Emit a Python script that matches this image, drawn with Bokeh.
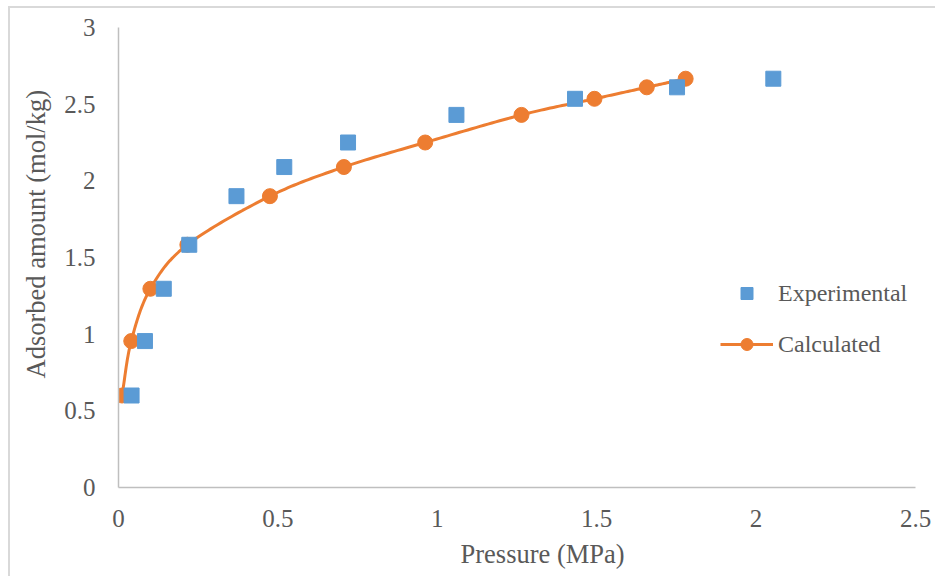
import numpy as np
from bokeh.plotting import figure
from bokeh.models import (Legend, LegendItem, FixedTicker, CustomJSTickFormatter, Title)
from bokeh.embed import file_html
from bokeh.resources import INLINE

# ---- data ----
exp_pressure = [0.041, 0.083, 0.142, 0.222, 0.37, 0.52, 0.72, 1.06, 1.432, 1.752, 2.054]
exp_amount = [0.60, 0.955, 1.296, 1.583, 1.90, 2.09, 2.25, 2.43, 2.535, 2.61, 2.666]
calc_pressure = [0.011, 0.04, 0.10, 0.216, 0.475, 0.707, 0.962, 1.264, 1.493, 1.657, 1.779]
calc_amount = [0.60, 0.955, 1.296, 1.583, 1.90, 2.09, 2.25, 2.43, 2.535, 2.61, 2.666]
x_ticks = [0, 0.5, 1, 1.5, 2, 2.5]
y_ticks = [0, 0.5, 1, 1.5, 2, 2.5, 3]

BLUE = "#5b9bd5"
ORANGE = "#ed7d31"
TXT = "#595959"
AX = "#bfbfbf"
FONT = "Liberation Serif"

W, H = 927, 570
p = figure(width=W, height=H, x_range=(0, 2.5), y_range=(0, 3),
           output_backend="svg", toolbar_location=None,
           min_border_left=108, min_border_right=22,
           min_border_top=19, min_border_bottom=91)
p.margin = (6, 0, 0, 8)
p.styles = {"border-top": "2px solid #d9d9d9", "border-left": "2px solid #d9d9d9"}
p.outline_line_color = None
p.xgrid.visible = False
p.ygrid.visible = False

# smooth curve (Catmull-Rom through the calculated points, in pixel-proportional space)
sx, sy = 319.0, 153.3
px = np.array(calc_pressure) * sx
py = np.array(calc_amount) * sy
P = np.column_stack([px, py])
Pe = np.vstack([P[0] - (P[1] - P[0]), P, P[-1] + (P[-1] - P[-2])])
cx, cy = [], []
for i in range(1, len(Pe) - 2):
    p0, p1, p2, p3 = Pe[i - 1], Pe[i], Pe[i + 1], Pe[i + 2]
    c1 = p1 + (p2 - p0) / 6.0
    c2 = p2 - (p3 - p1) / 6.0
    for t in np.linspace(0, 1, 25, endpoint=(i == len(Pe) - 3)):
        b = ((1 - t) ** 3) * p1 + 3 * ((1 - t) ** 2) * t * c1 + 3 * (1 - t) * t * t * c2 + t ** 3 * p2
        cx.append(b[0] / sx)
        cy.append(b[1] / sy)

line_r = p.line(cx, cy, line_color=ORANGE, line_width=3)
circ_r = p.scatter(calc_pressure, calc_amount, marker="circle", size=15,
                   fill_color=ORANGE, line_color=ORANGE)
sq_r = p.scatter(exp_pressure, exp_amount, marker="square", size=15,
                 fill_color=BLUE, line_color=BLUE)

for ax, ticks in ((p.xaxis[0], x_ticks), (p.yaxis[0], y_ticks)):
    ax.ticker = FixedTicker(ticks=ticks)
    ax.formatter = CustomJSTickFormatter(code="return tick.toString();")
    ax.axis_line_color = AX
    ax.axis_line_width = 1.5
    ax.major_tick_line_color = None
    ax.minor_tick_line_color = None
    ax.major_tick_out = 0
    ax.major_tick_in = 0
    ax.major_label_text_font = FONT
    ax.major_label_text_font_size = "25px"
    ax.major_label_text_color = TXT
p.xaxis.major_label_standoff = 22
p.yaxis.major_label_standoff = 23

xt = Title(text="Pressure (MPa)", align="left", offset=342, vertical_align="middle", standoff=17,
           text_font=FONT, text_font_size="26.5px", text_color=TXT, text_font_style="normal")
yt = Title(text="Adsorbed amount (mol/kg)", align="left", offset=109, vertical_align="top", standoff=18,
           text_font=FONT, text_font_size="26.5px", text_color=TXT, text_font_style="normal")
p.add_layout(xt, "below")
p.add_layout(yt, "left")

legend = Legend(items=[LegendItem(label="Experimental", renderers=[sq_r]),
                       LegendItem(label="Calculated", renderers=[line_r, circ_r])],
                location=(602, 128), orientation="vertical",
                glyph_width=53, glyph_height=30, spacing=21, padding=0, margin=0,
                label_standoff=5, border_line_color=None, background_fill_alpha=0,
                label_text_font=FONT, label_text_font_size="24px", label_text_color=TXT)
p.add_layout(legend)

open("out.html", "w").write(file_html(p, INLINE))
